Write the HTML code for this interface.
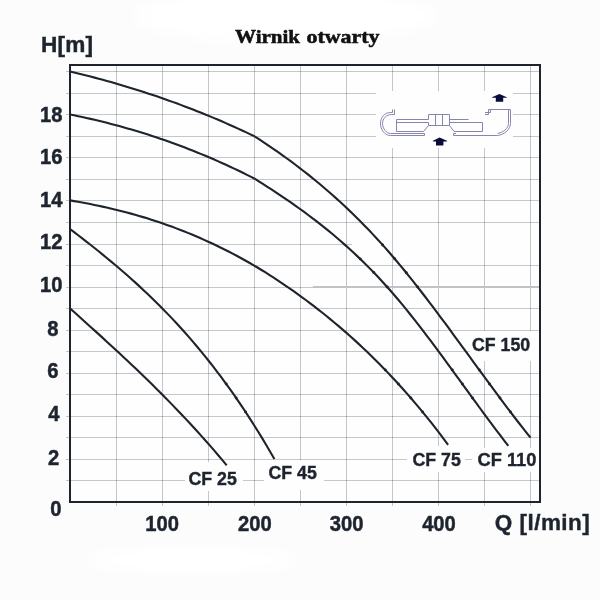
<!DOCTYPE html>
<html><head><meta charset="utf-8"><title>Wirnik otwarty</title>
<style>html,body{margin:0;padding:0;background:#fcfcfc;width:600px;height:600px;overflow:hidden}svg{display:block}</style>
</head><body>
<svg width="600" height="600" viewBox="0 0 600 600">
<rect x="0" y="0" width="600" height="600" fill="#fcfcfc"/>
<defs><filter id="bl" x="-50%" y="-50%" width="200%" height="200%"><feGaussianBlur stdDeviation="6"/></filter></defs>
<g fill="#ffffff" filter="url(#bl)"><ellipse cx="285" cy="16" rx="150" ry="26"/><ellipse cx="192" cy="560" rx="105" ry="13"/></g>
<rect x="69" y="64" width="472" height="439" fill="#fefefe"/>
<g stroke="#c5c7ca" stroke-width="1" fill="none"><line x1="66" y1="71.5" x2="540" y2="71.5"/><line x1="66" y1="93.5" x2="540" y2="93.5"/><line x1="66" y1="114.5" x2="540" y2="114.5"/><line x1="66" y1="136.5" x2="540" y2="136.5"/><line x1="66" y1="157.5" x2="540" y2="157.5"/><line x1="66" y1="179.5" x2="540" y2="179.5"/><line x1="66" y1="200.5" x2="540" y2="200.5"/><line x1="66" y1="222.5" x2="540" y2="222.5"/><line x1="66" y1="244.5" x2="352" y2="244.5"/><line x1="66" y1="265.5" x2="540" y2="265.5"/><line x1="66" y1="287.5" x2="540" y2="287.5"/><line x1="66" y1="308.5" x2="540" y2="308.5"/><line x1="66" y1="330.5" x2="540" y2="330.5"/><line x1="66" y1="351.5" x2="540" y2="351.5"/><line x1="66" y1="373.5" x2="540" y2="373.5"/><line x1="66" y1="394.5" x2="540" y2="394.5"/><line x1="66" y1="416.5" x2="540" y2="416.5"/><line x1="66" y1="437.5" x2="540" y2="437.5"/><line x1="66" y1="459.5" x2="540" y2="459.5"/><line x1="66" y1="480.5" x2="540" y2="480.5"/></g>
<g stroke="#c5c7ca" stroke-width="1" fill="none" style="mix-blend-mode:multiply"><line x1="116.5" y1="65" x2="116.5" y2="506"/><line x1="162.5" y1="65" x2="162.5" y2="506"/><line x1="208.5" y1="65" x2="208.5" y2="506"/><line x1="254.5" y1="65" x2="254.5" y2="506"/><line x1="300.5" y1="65" x2="300.5" y2="506"/><line x1="346.5" y1="65" x2="346.5" y2="506"/><line x1="392.5" y1="65" x2="392.5" y2="506"/><line x1="438.5" y1="65" x2="438.5" y2="506"/><line x1="484.5" y1="65" x2="484.5" y2="506"/><line x1="530.5" y1="65" x2="530.5" y2="506"/></g>
<line x1="313" y1="287" x2="540" y2="287" stroke="#c2c3c6" stroke-width="2"/>
<g fill="#fefefe"><rect x="185" y="462" width="58" height="29"/><rect x="264" y="460" width="60" height="30"/><rect x="407" y="446" width="58" height="26"/><rect x="472" y="448" width="68" height="24"/><rect x="470" y="331" width="70" height="30"/></g>
<rect x="376" y="91" width="137" height="57" fill="#fefefe"/>
<g fill="none" stroke="#8686ad" stroke-width="1"><path d="M390.5 112.5 C384.5 112.5 380.5 117.5 380.5 123.5 C380.5 129.5 384.5 135.5 390.5 135.5"/><path d="M391.5 114.5 C386.5 114.5 382.5 118.5 382.5 123.5 C382.5 128.5 386.5 133.5 390.5 133.5"/><path d="M392.5 109.5 V112.5 H390.5 M394.5 109.5 V114.5 H391.5"/><path d="M390.5 133.5 H424.5 V135.5 H390.5"/><path d="M428.5 119.5 H396.5 V131.5 H423.5 L428.5 125.5 M396.5 122.5 H428.5 V125.5"/><path d="M428.5 119.5 V114.5 H449.5 V125.5 H428.5 M435.5 114.5 V125.5 M442.5 114.5 V125.5"/><path d="M449.5 119.5 H468.5 M449.5 122.5 H482.5 V131.5 H454 L449.5 125.5"/><path d="M453.5 133.5 V135.5 H497.5 M453.5 133.5 H456"/><path d="M488.5 109.5 H510.5 V123.5 C510.5 129 505 134.5 497.5 135.5"/><path d="M508.5 109.5 V123.5 C508.5 128 503.5 132.5 497.5 133.5"/><path d="M488.5 109.5 V114.5 H485 M490.5 109.5 V112.5 H485"/></g><g fill="#0b0b3b"><path d="M499.4 94 L506.8 97.2 L506.8 97.8 L503.2 97.8 L503.2 101.8 L495.8 101.8 L495.8 97.8 L492 97.8 L492 97.2 Z"/><path d="M439.6 137.6 L447 140.8 L447 141.4 L443.4 141.4 L443.4 145.4 L436 145.4 L436 141.4 L432.9 141.4 L432.9 140.8 Z"/></g>
<g stroke="#1d242d" stroke-width="2.1" fill="none" stroke-linejoin="round"><path d="M70.00 71.50L74.10 72.48L78.20 73.47L82.30 74.48L86.40 75.51L90.50 76.57L94.60 77.63L98.70 78.72L102.80 79.83L106.90 80.96L111.00 82.11L115.10 83.28L119.20 84.47L123.30 85.68L127.40 86.91L131.50 88.16L135.60 89.44L139.70 90.73L143.80 92.05L147.90 93.38L152.00 94.74L156.10 96.12L160.20 97.52L164.30 98.95L168.40 100.40L172.50 101.87L176.60 103.36L180.70 104.88L184.80 106.42L188.90 107.98L193.00 109.57L197.10 111.18L201.20 112.81L205.30 114.47L209.40 116.15L213.50 117.86L217.60 119.59L221.70 121.34L225.80 123.12L229.90 124.93L234.00 126.76L238.10 128.62L242.20 130.50L246.30 132.41L250.40 134.34L254.50 136.30"/><path d="M254.50 136.30L258.56 138.93L262.62 141.60L266.68 144.31L270.74 147.06L274.79 149.85L278.85 152.68L282.91 155.56L286.97 158.49L291.03 161.47L295.09 164.50L299.15 167.58L303.21 170.71L307.26 173.90L311.32 177.14L315.38 180.44L319.44 183.81L323.50 187.23L327.56 190.72L331.62 194.26L335.68 197.88L339.74 201.56L343.79 205.31L347.85 209.13L351.91 213.03L355.97 216.99L360.03 221.03L364.09 225.15L368.15 229.34L372.21 233.61L376.26 237.96L380.32 242.40L384.38 246.92L388.44 251.52L392.50 256.21L396.56 260.99L400.62 265.85L404.68 270.79L408.74 275.80L412.79 280.88L416.85 286.03L420.91 291.24L424.97 296.50L429.03 301.81L433.09 307.17L437.15 312.57L441.21 318.01L445.26 323.48L449.32 328.98L453.38 334.51L457.44 340.05L461.50 345.60L465.56 351.17L469.62 356.73L473.68 362.30L477.74 367.87L481.79 373.42L485.85 378.97L489.91 384.49L493.97 389.99L498.03 395.46L502.09 400.90L506.15 406.31L510.21 411.67L514.26 416.99L518.32 422.25L522.38 427.46L526.44 432.61L530.50 437.70"/><path d="M70.00 200.40L74.07 201.09L78.13 201.80L82.20 202.53L86.26 203.30L90.33 204.09L94.39 204.91L98.46 205.75L102.52 206.63L106.59 207.53L110.66 208.47L114.72 209.44L118.79 210.44L122.85 211.47L126.92 212.53L130.98 213.63L135.05 214.76L139.12 215.93L143.18 217.13L147.25 218.37L151.31 219.65L155.38 220.97L159.44 222.32L163.51 223.71L167.57 225.14L171.64 226.61L175.71 228.12L179.77 229.67L183.84 231.26L187.90 232.90L191.97 234.57L196.03 236.28L200.10 238.04L204.16 239.84L208.23 241.67L212.30 243.56L216.36 245.48L220.43 247.45L224.49 249.46L228.56 251.52L232.62 253.62L236.69 255.77L240.75 257.97L244.82 260.22L248.89 262.52L252.95 264.87L257.02 267.27L261.08 269.73L265.15 272.23L269.21 274.79L273.28 277.40L277.35 280.06L281.41 282.76L285.48 285.52L289.54 288.33L293.61 291.18L297.67 294.08L301.74 297.03L305.80 300.03L309.87 303.07L313.94 306.17L318.00 309.31L322.07 312.51L326.13 315.76L330.20 319.07L334.26 322.44L338.33 325.86L342.39 329.34L346.46 332.88L350.53 336.48L354.59 340.15L358.66 343.88L362.72 347.67L366.79 351.53L370.85 355.46L374.92 359.46L378.98 363.53L383.05 367.68L387.12 371.89L391.18 376.18L395.25 380.55L399.31 384.99L403.38 389.51L407.44 394.11L411.51 398.80L415.58 403.56L419.64 408.41L423.71 413.34L427.77 418.36L431.84 423.47L435.90 428.67L439.97 433.95L444.03 439.33L448.10 444.80"/><path d="M70.00 229.00L74.09 232.11L78.18 235.24L82.26 238.40L86.35 241.58L90.44 244.79L94.53 248.02L98.62 251.29L102.70 254.60L106.79 257.94L110.88 261.33L114.97 264.75L119.06 268.23L123.14 271.74L127.23 275.32L131.32 278.94L135.41 282.62L139.50 286.35L143.58 290.15L147.67 294.01L151.76 297.94L155.85 301.94L159.94 306.00L164.02 310.14L168.11 314.36L172.20 318.65L176.29 323.03L180.38 327.48L184.46 332.03L188.55 336.66L192.64 341.39L196.73 346.21L200.82 351.12L204.90 356.14L208.99 361.25L213.08 366.47L217.17 371.80L221.26 377.24L225.34 382.78L229.43 388.45L233.52 394.23L237.61 400.12L241.70 406.14L245.78 412.29L249.87 418.56L253.96 424.96L258.05 431.49L262.14 438.16L266.22 444.97L270.31 451.91L274.40 459.00"/><path d="M70.00 308.40L74.12 312.09L78.25 315.79L82.37 319.49L86.49 323.20L90.62 326.91L94.74 330.64L98.87 334.38L102.99 338.13L107.11 341.90L111.24 345.68L115.36 349.49L119.48 353.31L123.61 357.16L127.73 361.03L131.86 364.92L135.98 368.84L140.10 372.79L144.23 376.77L148.35 380.78L152.47 384.83L156.60 388.91L160.72 393.03L164.84 397.19L168.97 401.38L173.09 405.62L177.22 409.90L181.34 414.23L185.46 418.61L189.59 423.03L193.71 427.50L197.83 432.03L201.96 436.61L206.08 441.24L210.21 445.93L214.33 450.68L218.45 455.49L222.58 460.36L226.70 465.30"/><path d="M70.00 114.50L74.10 115.33L78.21 116.18L82.31 117.06L86.42 117.96L90.52 118.89L94.63 119.84L98.73 120.82L102.84 121.82L106.94 122.85L111.04 123.91L115.15 124.99L119.25 126.10L123.36 127.24L127.46 128.40L131.57 129.59L135.67 130.80L139.78 132.05L143.88 133.32L147.98 134.62L152.09 135.95L156.19 137.30L160.30 138.69L164.40 140.10L168.51 141.54L172.61 143.01L176.72 144.51L180.82 146.03L184.92 147.59L189.03 149.18L193.13 150.79L197.24 152.44L201.34 154.11L205.45 155.82L209.55 157.55L213.66 159.32L217.76 161.12L221.86 162.95L225.97 164.80L230.07 166.69L234.18 168.62L238.28 170.57L242.39 172.55L246.49 174.57L250.60 176.62L254.70 178.70"/><path d="M254.70 178.70L258.79 181.29L262.88 183.89L266.97 186.52L271.06 189.17L275.15 191.86L279.24 194.58L283.33 197.33L287.42 200.12L291.51 202.95L295.60 205.82L299.69 208.74L303.78 211.71L307.87 214.73L311.96 217.80L316.05 220.92L320.15 224.11L324.24 227.36L328.33 230.67L332.42 234.04L336.51 237.49L340.60 241.01L344.69 244.60L348.78 248.27L352.87 252.02L356.96 255.86L361.05 259.77L365.14 263.78L369.23 267.87L373.32 272.06L377.41 276.34L381.50 280.73L385.59 285.21L389.68 289.79L393.77 294.49L397.86 299.28L401.95 304.18L406.04 309.17L410.13 314.25L414.22 319.40L418.31 324.64L422.40 329.94L426.49 335.30L430.58 340.72L434.67 346.18L438.76 351.69L442.85 357.24L446.95 362.81L451.04 368.41L455.13 374.03L459.22 379.66L463.31 385.29L467.40 390.93L471.49 396.55L475.58 402.16L479.67 407.75L483.76 413.32L487.85 418.85L491.94 424.34L496.03 429.79L500.12 435.19L504.21 440.52L508.30 445.80"/></g>
<g fill="#1d242d"><circle cx="382.63" cy="245.00" r="1.45"/><circle cx="394.64" cy="258.70" r="1.45"/><circle cx="406.24" cy="272.70" r="1.45"/><circle cx="417.56" cy="287.00" r="1.45"/><circle cx="479.28" cy="370.00" r="1.45"/><circle cx="489.49" cy="384.00" r="1.45"/><circle cx="499.99" cy="398.00" r="1.45"/><circle cx="510.48" cy="412.00" r="1.45"/><circle cx="385.30" cy="370.00" r="1.45"/><circle cx="398.35" cy="384.00" r="1.45"/><circle cx="410.84" cy="398.00" r="1.45"/><circle cx="422.57" cy="412.00" r="1.45"/><circle cx="226.24" cy="384.00" r="1.45"/><circle cx="236.16" cy="398.00" r="1.45"/><circle cx="245.57" cy="412.00" r="1.45"/><circle cx="360.25" cy="259.00" r="1.45"/><circle cx="373.70" cy="272.40" r="1.45"/><circle cx="387.15" cy="287.00" r="1.45"/><circle cx="452.23" cy="370.00" r="1.45"/><circle cx="462.38" cy="384.00" r="1.45"/><circle cx="472.52" cy="398.00" r="1.45"/></g>
<rect x="70" y="65" width="470" height="437" fill="none" stroke="#1d242d" stroke-width="2"/>
<g font-family="Liberation Sans, sans-serif" font-weight="bold" font-size="18.3" fill="#1e242e" stroke="#1e242e" stroke-width="0.4">
<text x="188.5" y="484.6" transform="translate(188.50 0) scale(0.970 1) translate(-188.50 0)">CF 25</text>
<text x="268.5" y="479.4" transform="translate(268.50 0) scale(0.970 1) translate(-268.50 0)">CF 45</text>
<text x="412.5" y="466.1" transform="translate(412.50 0) scale(0.970 1) translate(-412.50 0)">CF 75</text>
<text x="477.5" y="466.1" transform="translate(477.50 0) scale(1.000 1) translate(-477.50 0)">CF 110</text>
<text x="472.0" y="351.1" transform="translate(472.00 0) scale(0.970 1) translate(-472.00 0)">CF 150</text>
</g>
<g font-family="Liberation Sans, sans-serif" font-weight="bold" font-size="21.5" fill="#1e242e" stroke="#1e242e" stroke-width="0.50" text-anchor="end">
<text x="62.5" y="122.0" transform="translate(62.50 0) scale(0.940 1) translate(-62.50 0)">18</text>
<text x="62.5" y="164.5" transform="translate(62.50 0) scale(0.940 1) translate(-62.50 0)">16</text>
<text x="62.5" y="206.6" transform="translate(62.50 0) scale(0.940 1) translate(-62.50 0)">14</text>
<text x="62.5" y="248.6" transform="translate(62.50 0) scale(0.940 1) translate(-62.50 0)">12</text>
<text x="62.5" y="292.0" transform="translate(62.50 0) scale(0.940 1) translate(-62.50 0)">10</text>
<text x="58.6" y="335.6" transform="translate(58.60 0) scale(0.940 1) translate(-58.60 0)">8</text>
<text x="58.6" y="378.0" transform="translate(58.60 0) scale(0.940 1) translate(-58.60 0)">6</text>
<text x="59.6" y="421.5" transform="translate(59.60 0) scale(0.940 1) translate(-59.60 0)">4</text>
<text x="59.2" y="464.6" transform="translate(59.20 0) scale(0.940 1) translate(-59.20 0)">2</text>
<text x="61.5" y="515.9" transform="translate(61.50 0) scale(0.940 1) translate(-61.50 0)">0</text>
</g>
<g font-family="Liberation Sans, sans-serif" font-weight="bold" font-size="21.5" fill="#1e242e" stroke="#1e242e" stroke-width="0.50" text-anchor="middle">
<text x="162.2" y="531.0" transform="translate(162.20 0) scale(0.940 1) translate(-162.20 0)">100</text>
<text x="254.8" y="531.0" transform="translate(254.80 0) scale(0.940 1) translate(-254.80 0)">200</text>
<text x="346.6" y="531.0" transform="translate(346.60 0) scale(0.940 1) translate(-346.60 0)">300</text>
<text x="439.0" y="531.0" transform="translate(439.00 0) scale(0.940 1) translate(-439.00 0)">400</text>
</g>
<text x="41" y="52.4" font-family="Liberation Sans, sans-serif" font-weight="bold" font-size="22.6" fill="#1e242e" stroke="#1e242e" stroke-width="0.45" textLength="52" lengthAdjust="spacing">H[m]</text>
<text x="494.8" y="530.3" font-family="Liberation Sans, sans-serif" font-weight="bold" font-size="22.5" fill="#1e242e" stroke="#1e242e" stroke-width="0.4" textLength="95" lengthAdjust="spacing">Q [l/min]</text>
<g font-family="Liberation Serif, serif" font-weight="bold" font-size="19.8" fill="#111111" stroke="#111111" stroke-width="0.55"><text x="235.00" y="43.2" textLength="65.00" lengthAdjust="spacingAndGlyphs">Wirnik</text><text x="306.50" y="43.2" textLength="73.00" lengthAdjust="spacingAndGlyphs">otwarty</text></g>
</svg>
</body></html>
